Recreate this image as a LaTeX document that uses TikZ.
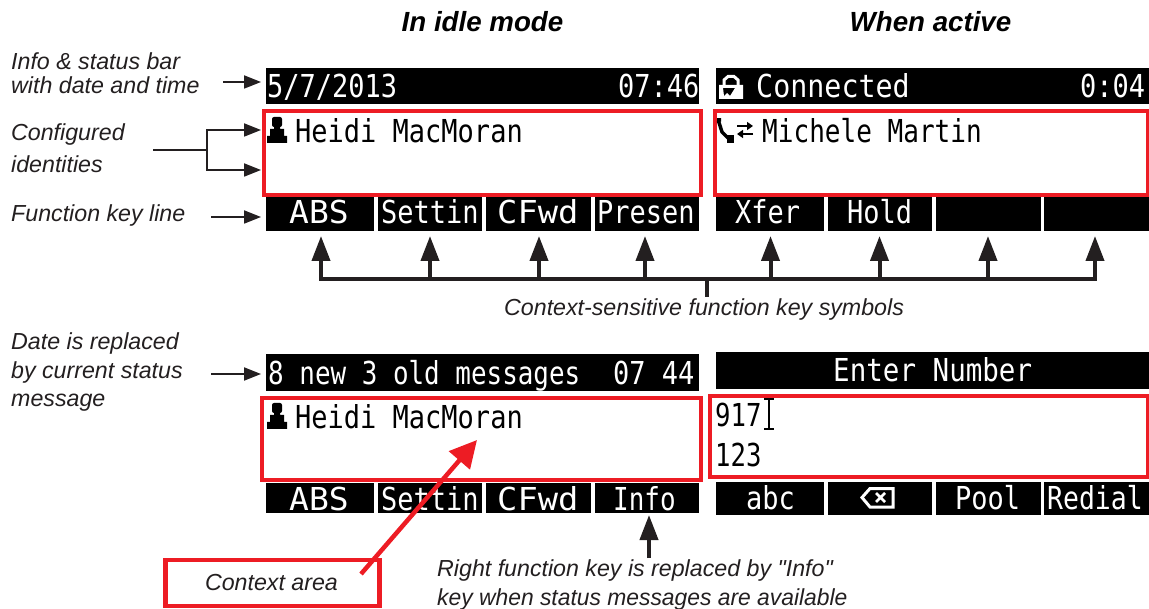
\documentclass[tikz,border=0pt]{standalone}
\usepackage{fontspec}
\newfontfamily\notefam{Liberation Sans}
\newfontfamily\lcdfam{DejaVu Sans Mono}
\usetikzlibrary{arrows.meta}
\definecolor{ink}{HTML}{231F20}
\definecolor{redbox}{HTML}{ED1C24}
\newcommand\lc[2][1]{\scalebox{#1}[1.17]{#2}}
\tikzset{
  x=1pt,y=-1pt,
  bar/.style={fill=black,draw=none},
  redframe/.style={draw=redbox,line width=4.5pt,fill=none},
  lcdw/.style={anchor=base west,inner sep=0pt,text=white,font=\lcdfam\fontsize{27}{30}\selectfont},
  lcdk/.style={lcdw,text=black},
  note/.style={anchor=base west,inner sep=0pt,text=ink,font=\notefam\fontsize{23.2}{27}\selectfont\itshape},
  head/.style={anchor=base,inner sep=0pt,text=black,font=\notefam\fontsize{27.7}{30}\selectfont\bfseries\itshape},
  thinarrow/.style={draw=ink,line width=1.8pt,-{Triangle[length=17pt,width=13pt]}},
  thinline/.style={draw=ink,line width=1.8pt},
  trunk/.style={draw=ink,line width=4pt},
  bigarrow/.style={draw=ink,line width=4pt,-{Triangle[length=25pt,width=18pt]}},
  redarrow/.style={draw=redbox,line width=4.5pt,-{Triangle[length=27pt,width=27pt]}},
}
\begin{document}
\begin{tikzpicture}
\useasboundingbox (0,0) rectangle (1149,609);
% headings
\node[head] (h1) at (482.5,31.5) {In idle mode};
\node[head] (h2) at (930.5,31.5) {When active};
% bars row 1
\fill[bar] (266,68) rectangle (699,104);
\fill[bar] (716,68) rectangle (1149,104);
\fill[bar] (266,197) rectangle (374,231);
\fill[bar] (378,197) rectangle (482,231);
\fill[bar] (486,197) rectangle (591,231);
\fill[bar] (595,197) rectangle (699,231);
\fill[bar] (716,197) rectangle (824,231);
\fill[bar] (828,197) rectangle (932,231);
\fill[bar] (936,197) rectangle (1041,231);
\fill[bar] (1044,197) rectangle (1149,231);
% bars row 2
\fill[bar] (266,354) rectangle (699,391);
\fill[bar] (716,352) rectangle (1149,389);
\fill[bar] (266,483) rectangle (374,513);
\fill[bar] (378,483) rectangle (482,513);
\fill[bar] (486,483) rectangle (591,513);
\fill[bar] (595,483) rectangle (699,513);
\fill[bar] (716,482) rectangle (824,515);
\fill[bar] (828,482) rectangle (932,515);
\fill[bar] (936,482) rectangle (1041,515);
\fill[bar] (1044,482) rectangle (1149,515);
% red frames
\draw[redframe] (264,111) rectangle (701,195);
\draw[redframe] (715,111) rectangle (1148,195);
\draw[redframe] (262,398) rectangle (701,480);
\draw[redframe] (710,396) rectangle (1148,477);
% lcd text
\node[lcdw] (t1) at (267,98) {\lc{5/7/2013}};
\node[lcdw] (t2) at (618,98) {\lc{07:46}};
\node[lcdw] (t3) at (756,98) {\lc[1.05]{Connected}};
\node[lcdw] (t4) at (1080,98) {\lc{0:04}};
\node[lcdk] (t5) at (295,143) {\lc{Heidi MacMoran}};
\node[lcdk] (t6) at (762,143) {\lc[0.965]{Michele Martin}};
\node[lcdw] (k1) at (289,224) {\lc[1.22]{ABS}};
\node[lcdw] (k2) at (381,224) {\lc{Settin}};
\node[lcdw] (k3) at (497,224) {\lc[1.25]{CFwd}};
\node[lcdw] (k4) at (597,224) {\lc{Presen}};
\node[lcdw] (k5) at (735,224) {\lc{Xfer}};
\node[lcdw] (k6) at (847,224) {\lc{Hold}};
\node[lcdw] (s1) at (268,385) {\lc[0.96]{8 new 3 old messages}};
\node[lcdw] (s2) at (613,385) {\lc{07 44}};
\node[lcdw] (s3) at (833,382) {\lc[1.02]{Enter Number}};
\node[lcdk] (t7) at (295,429) {\lc{Heidi MacMoran}};
\node[lcdk] (t8) at (715,427) {\lc[0.95]{917}};
\node[lcdk] (t9) at (715,467) {\lc[0.95]{123}};
\node[lcdw] (k7) at (289,510) {\lc[1.22]{ABS}};
\node[lcdw] (k8) at (381,510) {\lc{Settin}};
\node[lcdw] (k9) at (497,510) {\lc[1.25]{CFwd}};
\node[lcdw] (k10) at (613,510) {\lc[0.96]{Info}};
\node[lcdw] (k11) at (746,509) {\lc{abc}};
\node[lcdw] (k12) at (955,509) {\lc{Pool}};
\node[lcdw] (k13) at (1047,509) {\lc[0.98]{Redial}};
% person icons
\foreach \dy in {0,286}{
  \begin{scope}[yshift=-\dy pt]
  \fill[black,rounded corners=2pt] (272,117) rectangle (282,127);
  \fill[black] (274,126) rectangle (280,130) (270,129) rectangle (284,137) (267,136) rectangle (287,143);
  \end{scope}
}
% lock icon
\fill[white,even odd rule] (719,85) rectangle (743,99) (723,88) -- (735,88) -- (730,96) -- (727,93) -- (724,96) -- cycle;
\draw[white,line width=3pt] (724,85) -- (724,80) -- (728,76.5) -- (734,76.5) -- (738,80) -- (738,85);
% phone + transfer
\draw[black,line width=3.5pt] (717,120) -- (721,120) (718.5,121) -- (722,132) -- (729,139);
\fill[black] (727,135) rectangle (734,143);
\draw[black,line width=2.2pt,-{Triangle[length=6pt,width=8pt]}] (737,126) -- (753,126);
\draw[black,line width=2.2pt,-{Triangle[length=6pt,width=8pt]}] (753,134) -- (737,134);
% cursor
\draw[black,line width=2.4pt] (764,399) -- (774,399) (769,399) -- (769,429) (764,429) -- (774,429);
% backspace icon
\draw[white,line width=3pt,line join=miter] (893,488.5) -- (870,488.5) -- (862,497.5) -- (870,507) -- (893,507) -- cycle;
\draw[white,line width=2.6pt] (876,493) -- (885,502) (885,493) -- (876,502);
% notes
\node[note] (n1) at (11,70) {Info \& status bar};
\node[note] (n2) at (11,94) {with date and time};
\node[note] (n3) at (11,141) {Configured};
\node[note] (n4) at (11,173) {identities};
\node[note] (n5) at (11,222) {Function key line};
\node[note] (n6) at (11,350) {Date is replaced};
\node[note] (n7) at (11,379) {by current status};
\node[note] (n8) at (11,407) {message};
\node[note] (n9) at (504,316) {Context-sensitive function key symbols};
\node[note] (n10) at (437,576) {Right function key is replaced by "Info"};
\node[note] (n11) at (437,605) {\scalebox{0.985}[1]{key when status messages are available}};
% context box
\node[draw=redbox,line width=4.5pt,minimum width=214pt,minimum height=46pt,inner sep=0pt,anchor=north west] (ctx) at (163,557.5) {};
\node[note,anchor=base] (ctxt) at (271.5,590) {Context area};
% left connectors
\coordinate (a1s) at (223,82); \coordinate (a1e) at (261,82);
\coordinate (a2s) at (153,150); \coordinate (a2j) at (207,150);
\coordinate (a2t) at (261,130); \coordinate (a2b) at (261,170);
\coordinate (a3s) at (211,217); \coordinate (a3e) at (261,217);
\coordinate (a4s) at (211,374); \coordinate (a4e) at (261,374);
\draw[thinarrow] (a1s) -- (a1e);
\draw[thinline] (a2s) -- (a2j);
\draw[thinarrow] (a2j) |- (a2t);
\draw[thinarrow] (a2j) |- (a2b);
\draw[thinarrow] (a3s) -- (a3e);
\draw[thinarrow] (a4s) -- (a4e);
% trunk with up arrows
\coordinate (tL) at (319,279); \coordinate (tR) at (1097,279);
\coordinate (tS) at (707,297);
\draw[trunk] (tL) -- (tR);
\draw[trunk] (707,279) -- (tS);
\foreach \i/\x in {1/321,2/430,3/539,4/645,5/770.5,6/879.5,7/988,8/1095}{
  \coordinate (u\i) at (\x,236);
  \coordinate (d\i) at (\x,281);
  \draw[bigarrow] (d\i) -- (u\i);
}
% info arrow
\coordinate (iS) at (649,558); \coordinate (iT) at (649,515);
\draw[bigarrow] (iS) -- (iT);
% red arrow
\coordinate (rS) at (361,574); \coordinate (rT) at (477,440);
\draw[redarrow] (rS) -- (rT);
\end{tikzpicture}
\end{document}
